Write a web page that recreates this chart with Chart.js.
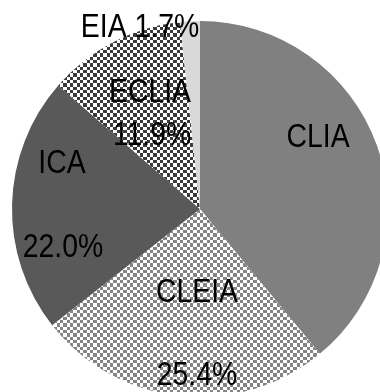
<!DOCTYPE html>
<html>
<head>
<meta charset="utf-8">
<script src="https://cdn.jsdelivr.net/npm/chart.js@4/dist/chart.umd.min.js"></script>
<style>
  html, body { margin: 0; padding: 0; background: #fff; overflow: hidden; width: 380px; height: 392px; }
  canvas { position: absolute; left: 0; top: 0; }
</style>
</head>
<body>
<canvas id="c" width="400" height="410"></canvas>
<script>
// Share of immunoassay methods (%)
const categories = ['CLIA', 'CLEIA', 'ICA', 'ECLIA', 'EIA'];
const shares = [39.0, 25.4, 22.0, 11.9, 1.7];
const valueLabels = ['', '25.4%', '22.0%', '11.9%', '1.7%'];

// Checkerboard fill used for the hatched slices (cell edges on a 20px tile)
function checker(fg, bg) {
  const edges = [0, 3, 7, 10, 13, 17, 20];
  const t = document.createElement('canvas');
  t.width = 20; t.height = 20;
  const g = t.getContext('2d');
  g.fillStyle = bg; g.fillRect(0, 0, 20, 20);
  g.fillStyle = fg;
  for (let r = 0; r < 6; r++) {
    for (let k = 0; k < 6; k++) {
      if ((r + k) % 2 === 0) {
        g.fillRect(edges[k], edges[r], edges[k + 1] - edges[k], edges[r + 1] - edges[r]);
      }
    }
  }
  return g.createPattern(t, 'repeat');
}

const ctx = document.getElementById('c').getContext('2d');
const fills = [
  '#808080',
  checker('#848484', '#ffffff'),
  '#595959',
  checker('#3a3a3a', '#ffffff'),
  '#d9d9d9'
];

// Label lines per slice: which text, and baseline position as a fraction of the radius from the centre
const labelLayout = [
  [{ part: 'name', fx: 0.628, fy: -0.330 }],
  [{ part: 'name', fx: -0.016, fy: 0.495 }, { part: 'value', fx: -0.016, fy: 0.936 }],
  [{ part: 'name', fx: -0.734, fy: -0.191 }, { part: 'value', fx: -0.729, fy: 0.255 }],
  [{ part: 'name', fx: -0.266, fy: -0.569 }, { part: 'value', fx: -0.255, fy: -0.340 }],
  [{ part: 'both', fx: -0.319, fy: -0.915 }]
];

const sliceLabels = {
  id: 'sliceLabels',
  afterDatasetsDraw(chart) {
    const c = chart.ctx;
    const meta = chart.getDatasetMeta(0);
    c.save();
    c.fillStyle = '#000';
    c.font = '33px "Liberation Sans", Arial, sans-serif';
    c.textAlign = 'center';
    c.textBaseline = 'alphabetic';
    meta.data.forEach((arc, i) => {
      const p = arc.getProps(['x', 'y', 'outerRadius'], true);
      labelLayout[i].forEach(l => {
        const txt = l.part === 'name' ? categories[i]
                  : l.part === 'value' ? valueLabels[i]
                  : categories[i] + ' ' + valueLabels[i];
        const x = p.x + l.fx * p.outerRadius;
        const y = p.y + l.fy * p.outerRadius;
        c.save();
        c.translate(x, y);
        c.scale(0.86, 1);
        c.fillText(txt, 0, 0);
        c.restore();
      });
    });
    c.restore();
  }
};

new Chart(ctx, {
  type: 'pie',
  data: {
    labels: categories,
    datasets: [{
      data: shares,
      backgroundColor: fills,
      borderWidth: 0
    }]
  },
  options: {
    responsive: false,
    animation: false,
    layout: { padding: { left: 12, right: 12, top: 21, bottom: 13 } },
    plugins: { legend: { display: false }, tooltip: { enabled: false } }
  },
  plugins: [sliceLabels]
});
</script>
</body>
</html>
